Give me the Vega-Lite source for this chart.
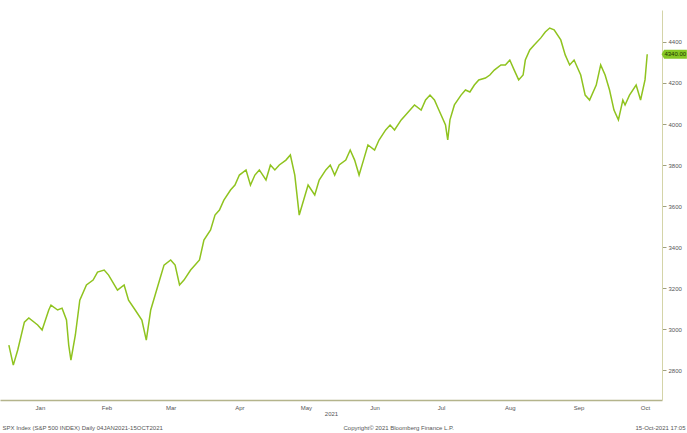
{
  "$schema": "https://vega.github.io/schema/vega-lite/v6.json",
  "width": 662,
  "height": 390,
  "autosize": {"type": "none"},
  "padding": {"left": 0, "top": 10, "right": 25, "bottom": 33},
  "background": "white",
  "config": {"view": {"stroke": null}, "font": "Liberation Sans"},
  "datasets": {
    "prices": [
      {"date": "2021-01-02", "price": 2922}, {"date": "2021-01-04", "price": 2824}, {"date": "2021-01-06", "price": 2898},
      {"date": "2021-01-09", "price": 3034}, {"date": "2021-01-11", "price": 3054}, {"date": "2021-01-15", "price": 3020},
      {"date": "2021-01-17", "price": 2995}, {"date": "2021-01-20", "price": 3093}, {"date": "2021-01-21", "price": 3117},
      {"date": "2021-01-24", "price": 3093}, {"date": "2021-01-26", "price": 3102}, {"date": "2021-01-28", "price": 3044},
      {"date": "2021-01-29", "price": 2922}, {"date": "2021-01-30", "price": 2849}, {"date": "2021-02-01", "price": 2971},
      {"date": "2021-02-03", "price": 3141}, {"date": "2021-02-06", "price": 3215}, {"date": "2021-02-09", "price": 3239},
      {"date": "2021-02-11", "price": 3278}, {"date": "2021-02-14", "price": 3288}, {"date": "2021-02-16", "price": 3263},
      {"date": "2021-02-20", "price": 3190}, {"date": "2021-02-23", "price": 3215}, {"date": "2021-02-25", "price": 3141},
      {"date": "2021-02-28", "price": 3093}, {"date": "2021-03-03", "price": 3044}, {"date": "2021-03-05", "price": 2946},
      {"date": "2021-03-07", "price": 3093}, {"date": "2021-03-09", "price": 3166}, {"date": "2021-03-11", "price": 3239},
      {"date": "2021-03-13", "price": 3312}, {"date": "2021-03-16", "price": 3337}, {"date": "2021-03-18", "price": 3312},
      {"date": "2021-03-20", "price": 3215}, {"date": "2021-03-22", "price": 3239}, {"date": "2021-03-25", "price": 3288},
      {"date": "2021-03-27", "price": 3312}, {"date": "2021-03-29", "price": 3337}, {"date": "2021-03-31", "price": 3434},
      {"date": "2021-04-03", "price": 3483}, {"date": "2021-04-05", "price": 3556}, {"date": "2021-04-07", "price": 3580},
      {"date": "2021-04-09", "price": 3629}, {"date": "2021-04-12", "price": 3678}, {"date": "2021-04-14", "price": 3702},
      {"date": "2021-04-16", "price": 3751}, {"date": "2021-04-19", "price": 3776}, {"date": "2021-04-21", "price": 3702},
      {"date": "2021-04-23", "price": 3751}, {"date": "2021-04-25", "price": 3776}, {"date": "2021-04-28", "price": 3727},
      {"date": "2021-04-30", "price": 3800}, {"date": "2021-05-02", "price": 3776}, {"date": "2021-05-04", "price": 3800},
      {"date": "2021-05-07", "price": 3824}, {"date": "2021-05-09", "price": 3849}, {"date": "2021-05-11", "price": 3751},
      {"date": "2021-05-13", "price": 3556}, {"date": "2021-05-15", "price": 3629}, {"date": "2021-05-17", "price": 3702},
      {"date": "2021-05-20", "price": 3654}, {"date": "2021-05-22", "price": 3727}, {"date": "2021-05-25", "price": 3776},
      {"date": "2021-05-27", "price": 3800}, {"date": "2021-05-29", "price": 3751}, {"date": "2021-05-31", "price": 3800},
      {"date": "2021-06-03", "price": 3824}, {"date": "2021-06-05", "price": 3873}, {"date": "2021-06-07", "price": 3824},
      {"date": "2021-06-09", "price": 3751}, {"date": "2021-06-11", "price": 3824}, {"date": "2021-06-13", "price": 3898},
      {"date": "2021-06-16", "price": 3873}, {"date": "2021-06-18", "price": 3922}, {"date": "2021-06-21", "price": 3971},
      {"date": "2021-06-23", "price": 3995}, {"date": "2021-06-25", "price": 3971}, {"date": "2021-06-28", "price": 4020},
      {"date": "2021-06-30", "price": 4044}, {"date": "2021-07-02", "price": 4068}, {"date": "2021-07-04", "price": 4093},
      {"date": "2021-07-07", "price": 4068}, {"date": "2021-07-09", "price": 4117}, {"date": "2021-07-11", "price": 4141},
      {"date": "2021-07-13", "price": 4117}, {"date": "2021-07-15", "price": 4068}, {"date": "2021-07-18", "price": 3995},
      {"date": "2021-07-19", "price": 3922}, {"date": "2021-07-20", "price": 4020}, {"date": "2021-07-22", "price": 4093},
      {"date": "2021-07-25", "price": 4141}, {"date": "2021-07-27", "price": 4166}, {"date": "2021-07-29", "price": 4156},
      {"date": "2021-07-31", "price": 4190}, {"date": "2021-08-02", "price": 4215}, {"date": "2021-08-05", "price": 4224},
      {"date": "2021-08-07", "price": 4239}, {"date": "2021-08-09", "price": 4263}, {"date": "2021-08-12", "price": 4288},
      {"date": "2021-08-14", "price": 4288}, {"date": "2021-08-16", "price": 4312}, {"date": "2021-08-18", "price": 4263},
      {"date": "2021-08-20", "price": 4215}, {"date": "2021-08-22", "price": 4239}, {"date": "2021-08-23", "price": 4312},
      {"date": "2021-08-25", "price": 4361}, {"date": "2021-08-27", "price": 4385}, {"date": "2021-08-30", "price": 4420},
      {"date": "2021-09-01", "price": 4449}, {"date": "2021-09-03", "price": 4468}, {"date": "2021-09-05", "price": 4459},
      {"date": "2021-09-08", "price": 4410}, {"date": "2021-09-10", "price": 4337}, {"date": "2021-09-12", "price": 4288},
      {"date": "2021-09-14", "price": 4312}, {"date": "2021-09-17", "price": 4239}, {"date": "2021-09-19", "price": 4141},
      {"date": "2021-09-21", "price": 4117}, {"date": "2021-09-24", "price": 4190}, {"date": "2021-09-26", "price": 4288},
      {"date": "2021-09-28", "price": 4239}, {"date": "2021-09-30", "price": 4166}, {"date": "2021-10-02", "price": 4068},
      {"date": "2021-10-04", "price": 4020}, {"date": "2021-10-06", "price": 4117}, {"date": "2021-10-07", "price": 4093},
      {"date": "2021-10-09", "price": 4141}, {"date": "2021-10-12", "price": 4190}, {"date": "2021-10-14", "price": 4117},
      {"date": "2021-10-16", "price": 4215}, {"date": "2021-10-17", "price": 4340}
    ],
    "last": [{"date": "2021-10-17", "price": 4340}]
  },
  "layer": [
    {
      "data": {"name": "prices"},
      "mark": {"type": "line", "color": "#8fc31f", "strokeWidth": 1.5, "clip": true},
      "encoding": {
        "x": {
          "field": "date", "type": "temporal",
          "scale": {"type": "utc", "domain": [{"year": 2020, "month": 12, "date": 29, "utc": true}, {"year": 2021, "month": 10, "date": 23, "hours": 16, "utc": true}]},
          "axis": {
            "orient": "bottom",
            "values": [
              {"year": 2021, "month": 1, "date": 16, "utc": true}, {"year": 2021, "month": 2, "date": 15, "utc": true},
              {"year": 2021, "month": 3, "date": 16, "utc": true}, {"year": 2021, "month": 4, "date": 16, "utc": true},
              {"year": 2021, "month": 5, "date": 16, "utc": true}, {"year": 2021, "month": 6, "date": 16, "utc": true},
              {"year": 2021, "month": 7, "date": 16, "utc": true}, {"year": 2021, "month": 8, "date": 16, "utc": true},
              {"year": 2021, "month": 9, "date": 16, "utc": true}, {"year": 2021, "month": 10, "date": 16, "utc": true}
            ],
            "labelExpr": "utcFormat(datum.value, '%b')",
            "grid": false, "ticks": false,
            "domainColor": "#b4b48c", "domainWidth": 1.5,
            "labelFontSize": 6, "labelColor": "#555555", "labelPadding": 4,
            "title": "2021", "titleFontSize": 6, "titleFontWeight": "normal", "titleColor": "#555555", "titlePadding": 0
          }
        },
        "y": {
          "field": "price", "type": "quantitative",
          "scale": {"domain": [2654, 4556], "zero": false, "nice": false},
          "axis": {
            "orient": "right",
            "values": [2800, 3000, 3200, 3400, 3600, 3800, 4000, 4200, 4400],
            "format": "d", "grid": false,
            "domainColor": "#d4d4a8", "tickColor": "#a0a080", "tickSize": 4,
            "labelFontSize": 6, "labelColor": "#555555", "labelPadding": 2,
            "title": "15-Oct-2021 17:05", "titleAngle": 0, "titleAlign": "right", "titleBaseline": "middle",
            "titleX": 23, "titleY": 417, "titleFontSize": 6, "titleFontWeight": "normal", "titleColor": "#555555"
          }
        }
      }
    },
    {
      "data": {"name": "prices"},
      "mark": {"type": "line", "opacity": 0},
      "encoding": {
        "x": {
          "field": "date", "type": "temporal", "scale": {"type": "utc"},
          "axis": {
            "orient": "bottom", "domain": false, "ticks": false, "labels": false, "grid": false,
            "title": "SPX Index (S&P 500 INDEX)  Daily  04JAN2021-15OCT2021",
            "titleAnchor": "start", "titleAlign": "left", "titleBaseline": "middle",
            "titleX": 2, "titleY": 27, "titleFontSize": 6, "titleFontWeight": "normal", "titleColor": "#555555"
          }
        },
        "y": {
          "field": "price", "type": "quantitative",
          "axis": {
            "orient": "left", "domain": false, "ticks": false, "labels": false, "grid": false,
            "title": "Copyright© 2021 Bloomberg Finance L.P.", "titleAngle": 0, "titleAlign": "left", "titleBaseline": "middle",
            "titleX": 343, "titleY": 417, "titleFontSize": 6, "titleFontWeight": "normal", "titleColor": "#555555"
          }
        }
      }
    },
    {
      "data": {"name": "last"},
      "mark": {"type": "point", "shape": "M-1,0 L-0.8,-0.36 L1,-0.36 L1,0.36 L-0.8,0.36 Z", "filled": true, "fill": "#86c726", "opacity": 1, "size": 640, "xOffset": 27, "clip": false},
      "encoding": {
        "x": {"field": "date", "type": "temporal", "scale": {"type": "utc"}, "axis": null},
        "y": {"field": "price", "type": "quantitative", "axis": null}
      }
    },
    {
      "data": {"name": "last"},
      "mark": {"type": "text", "fontSize": 6, "color": "#1f3300", "xOffset": 28, "align": "center", "baseline": "middle"},
      "encoding": {
        "x": {"field": "date", "type": "temporal", "scale": {"type": "utc"}, "axis": null},
        "y": {"field": "price", "type": "quantitative", "axis": null},
        "text": {"field": "price", "type": "quantitative", "format": ".2f"}
      }
    }
  ],
  "resolve": {"axis": {"x": "independent", "y": "independent"}}
}
